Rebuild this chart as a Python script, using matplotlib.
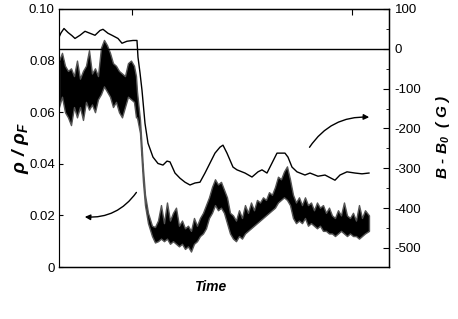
import matplotlib.pyplot as plt
from matplotlib.ticker import MultipleLocator

plt.rcParams['font.family'] = ['Liberation Sans', 'DejaVu Sans']
plt.rcParams['mathtext.fontset'] = 'custom'
plt.rcParams['mathtext.it'] = 'Liberation Sans:bold:italic'
plt.rcParams['mathtext.rm'] = 'Liberation Sans:bold:italic'
plt.rcParams['mathtext.bf'] = 'Liberation Sans:bold:italic'

# density rho/rho_F : noise band (upper / lower edge)
t_rho = [0, 3, 6, 9, 12, 15, 18, 21, 24, 27, 30, 33, 36, 39, 42, 45, 48, 51, 54, 57,
         60, 63, 66, 69, 72, 75, 77, 78, 81, 84, 86, 89, 93, 96, 99, 102, 105, 108,
         111, 114, 117, 120, 123, 126, 129, 132, 135, 138, 141, 144, 147, 150, 153,
         156, 159, 162, 165, 168, 171, 174, 177, 180, 183, 186, 189, 192, 195, 198,
         201, 204, 207, 210, 213, 216, 219, 222, 225, 228, 231, 234, 237, 240, 243,
         246, 249, 252, 255, 258, 261, 264, 267, 270, 273, 276, 279, 282, 285, 288,
         291, 294, 297, 300, 303, 306, 310]
rho_hi = [0.080, 0.083, 0.078, 0.076, 0.077, 0.074, 0.080, 0.073, 0.076, 0.078,
          0.084, 0.075, 0.077, 0.074, 0.085, 0.088, 0.086, 0.083, 0.079, 0.078,
          0.076, 0.075, 0.074, 0.079, 0.080, 0.078, 0.074, 0.068, 0.057, 0.038,
          0.028, 0.021, 0.016, 0.0155, 0.018, 0.024, 0.017, 0.025, 0.018, 0.021,
          0.023, 0.016, 0.018, 0.015, 0.016, 0.014, 0.019, 0.016, 0.019, 0.021,
          0.024, 0.027, 0.031, 0.034, 0.032, 0.033, 0.030, 0.027, 0.021, 0.020,
          0.018, 0.022, 0.019, 0.024, 0.021, 0.025, 0.022, 0.026, 0.025, 0.027,
          0.026, 0.029, 0.028, 0.031, 0.035, 0.034, 0.037, 0.039, 0.034, 0.028,
          0.025, 0.027, 0.024, 0.027, 0.024, 0.025, 0.022, 0.025, 0.023, 0.024,
          0.021, 0.023, 0.020, 0.019, 0.022, 0.020, 0.025, 0.020, 0.019, 0.021,
          0.018, 0.024, 0.019, 0.022, 0.020]
rho_lo = [0.062, 0.066, 0.060, 0.058, 0.055, 0.062, 0.058, 0.062, 0.057, 0.064,
          0.061, 0.063, 0.060, 0.065, 0.067, 0.070, 0.068, 0.066, 0.062, 0.064,
          0.060, 0.058, 0.062, 0.066, 0.065, 0.064, 0.058, 0.058, 0.052, 0.033,
          0.024, 0.017, 0.012, 0.0095, 0.010, 0.011, 0.010, 0.011, 0.009, 0.010,
          0.009, 0.008, 0.009, 0.007, 0.008, 0.006, 0.009, 0.010, 0.012, 0.013,
          0.015, 0.019, 0.021, 0.024, 0.022, 0.023, 0.021, 0.017, 0.013, 0.011,
          0.010, 0.012, 0.011, 0.013, 0.014, 0.015, 0.016, 0.017, 0.018, 0.019,
          0.020, 0.021, 0.022, 0.023, 0.025, 0.026, 0.027, 0.026, 0.024, 0.019,
          0.017, 0.018, 0.017, 0.019, 0.016, 0.017, 0.016, 0.015, 0.016, 0.014,
          0.014, 0.013, 0.013, 0.012, 0.013, 0.014, 0.013, 0.012, 0.013, 0.012,
          0.012, 0.011, 0.012, 0.013, 0.014]

# field B - B0 (G)
t_b = [0, 2, 5, 9, 13, 16, 21, 26, 31, 36, 41, 44, 49, 53, 59, 63, 68, 74, 78,
       79, 81, 83, 86, 89, 94, 99, 104, 108, 111, 116, 121, 126, 131, 136, 141,
       146, 151, 156, 161, 164, 168, 174, 178, 186, 193, 199, 203, 208, 213, 218,
       222, 226, 229, 233, 238, 246, 251, 259, 266, 276, 281, 288, 296, 303, 310]
b_field = [29, 40, 51, 41, 33, 26, 34, 44, 39, 34, 46, 49, 39, 34, 26, 14, 19,
           21, 21, -21, -60, -104, -187, -237, -272, -288, -292, -282, -284,
           -312, -325, -335, -342, -337, -335, -312, -287, -262, -247, -242,
           -262, -297, -304, -312, -322, -309, -304, -312, -287, -262, -262,
           -262, -272, -297, -309, -317, -312, -320, -317, -330, -317, -309,
           -312, -314, -312]

left_ticks = [0, 0.02, 0.04, 0.06, 0.08, 0.10]
left_labels = ['0', '0.02', '0.04', '0.06', '0.08', '0.10']
right_ticks = [100, 0, -100, -200, -300, -400, -500]

fig = plt.figure(figsize=(4.58, 3.19), dpi=100)
ax = fig.add_axes([0.1288, 0.163, 0.7205, 0.8088])

# noisy density band
ax.fill_between(t_rho, rho_lo, rho_hi, facecolor='black', edgecolor='#555555', lw=1.0)

ax.set_xlim(0, 330)
ax.set_ylim(0, 0.10)
ax.set_yticks(left_ticks)
ax.set_yticklabels(left_labels, fontsize=9.5)
ax.tick_params(axis='y', direction='in', length=3, width=0.8, pad=3)
ax.xaxis.set_ticks_position('top')
ax.set_xticks([73, 293])
ax.set_xticklabels([])
ax.tick_params(axis='x', direction='in', length=4, width=0.8)
ax.spines['left'].set_color('#777777')
for s in ['top', 'bottom', 'right']:
    ax.spines[s].set_linewidth(1.0)

ax2 = ax.twinx()
ax2.plot(t_b, b_field, color='black', lw=1.0)
ax2.axhline(0, color='black', lw=1.0)
ax2.set_ylim(-548, 99)
ax2.set_yticks(right_ticks)
ax2.set_yticklabels([str(v) for v in right_ticks], fontsize=9.5)
ax2.yaxis.set_minor_locator(MultipleLocator(50))
ax2.tick_params(axis='y', which='major', direction='in', length=4, width=0.8, pad=4)
ax2.tick_params(axis='y', which='minor', direction='in', length=2, width=0.6)

fig.text(0.044, 0.536, r'$\rho\ /\ \rho_F$', rotation=90, fontsize=14,
         ha='center', va='center')
fig.text(0.967, 0.57, r'$B\ $-$\ B_0\ \ (\ G\ )$', rotation=90, fontsize=11,
         ha='center', va='center', fontweight='bold', style='italic')
fig.text(0.458, 0.10, 'Time', fontsize=10, fontweight='bold', style='italic',
         ha='center', va='center')

# curved arrows pointing to each axis
ax.annotate('', xy=(23, 0.0195), xytext=(79, 0.0298),
            arrowprops=dict(arrowstyle='-|>', color='black', lw=1.0,
                            mutation_scale=8, connectionstyle='arc3,rad=-0.3'))
ax.annotate('', xy=(313, 0.058), xytext=(249, 0.0455),
            arrowprops=dict(arrowstyle='-|>', color='black', lw=1.0,
                            mutation_scale=8, connectionstyle='arc3,rad=-0.3'))

fig.savefig('out.png', dpi=100)
